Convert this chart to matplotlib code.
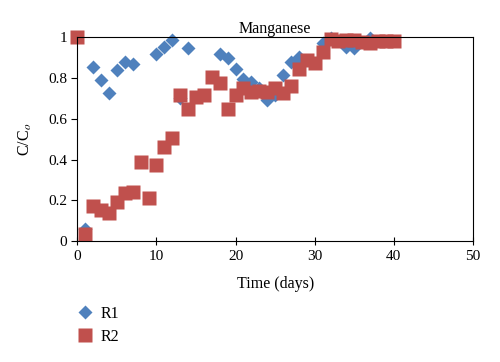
import matplotlib
matplotlib.use("Agg")
import matplotlib.pyplot as plt

plt.rcParams['font.family'] = ['Liberation Serif', 'DejaVu Serif']
plt.rcParams['mathtext.fontset'] = 'stix'

r1_days = [1, 2, 3, 4, 5, 6, 7, 10, 11, 12, 13, 14, 18, 19, 20, 21, 22, 23, 24, 25, 26, 27, 28,
           31, 32, 34, 35, 37]
r1_vals = [0.057, 0.856, 0.79, 0.725, 0.84, 0.88, 0.867, 0.92, 0.954, 0.987, 0.70, 0.946, 0.92,
           0.897, 0.843, 0.794, 0.78, 0.75, 0.69, 0.717, 0.815, 0.88, 0.905,
           0.971, 0.995, 0.95, 0.946, 0.995]

r2_days = [0, 1, 2, 3, 4, 5, 6, 7, 8, 9, 10, 11, 12, 13, 14, 15, 16, 17, 18, 19, 20, 21, 22, 23,
           24, 25, 26, 27, 28, 29, 30, 31, 32, 33, 34, 35, 36, 37, 38, 39, 40]
r2_vals = [1.0, 0.034, 0.17, 0.152, 0.14, 0.193, 0.237, 0.242, 0.39, 0.21, 0.373, 0.463, 0.504,
           0.717, 0.646, 0.705, 0.717, 0.807, 0.777, 0.646, 0.717, 0.75, 0.733, 0.736, 0.733,
           0.75, 0.725, 0.761, 0.843, 0.89, 0.872, 0.93, 0.992, 0.983, 0.987, 0.985, 0.975,
           0.97, 0.983, 0.983, 0.98]

fig = plt.figure(figsize=(5, 3.62), dpi=100)
ax = fig.add_axes([0.1546, 0.334, 0.7914, 0.563])

ax.plot(r1_days, r1_vals, 'D', color='#4F81BD', ms=7, mec='none', label='R1', clip_on=False)
ax.plot(r2_days, r2_vals, 's', color='#C0504D', ms=9.5, mec='none', label='R2', clip_on=False)

ax.set_xlim(0, 50)
ax.set_ylim(0, 1)
ax.set_xticks([0, 10, 20, 30, 40, 50])
ax.set_yticks([0, 0.2, 0.4, 0.6, 0.8, 1.0])
ax.set_yticklabels(['0', '0.2', '0.4', '0.6', '0.8', '1'])
ax.tick_params(axis='both', labelsize=11, length=4, width=0.8, color='black')
ax.tick_params(axis='x', direction='inout', length=6)
for s in ax.spines.values():
    s.set_linewidth(0.8)

ax.set_title('Manganese', fontsize=11.5, pad=2)
ax.set_xlabel('Time (days)', fontsize=11.5, labelpad=9)
ax.set_ylabel(r'C/C$_o$', fontsize=11.5, labelpad=10)

leg = ax.legend(loc='upper left', bbox_to_anchor=(0.125, 0.195), bbox_transform=fig.transFigure,
                frameon=False, fontsize=11.5, handletextpad=0.5, labelspacing=0.45,
                handlelength=1.0)

fig.savefig('out.png', dpi=100)
